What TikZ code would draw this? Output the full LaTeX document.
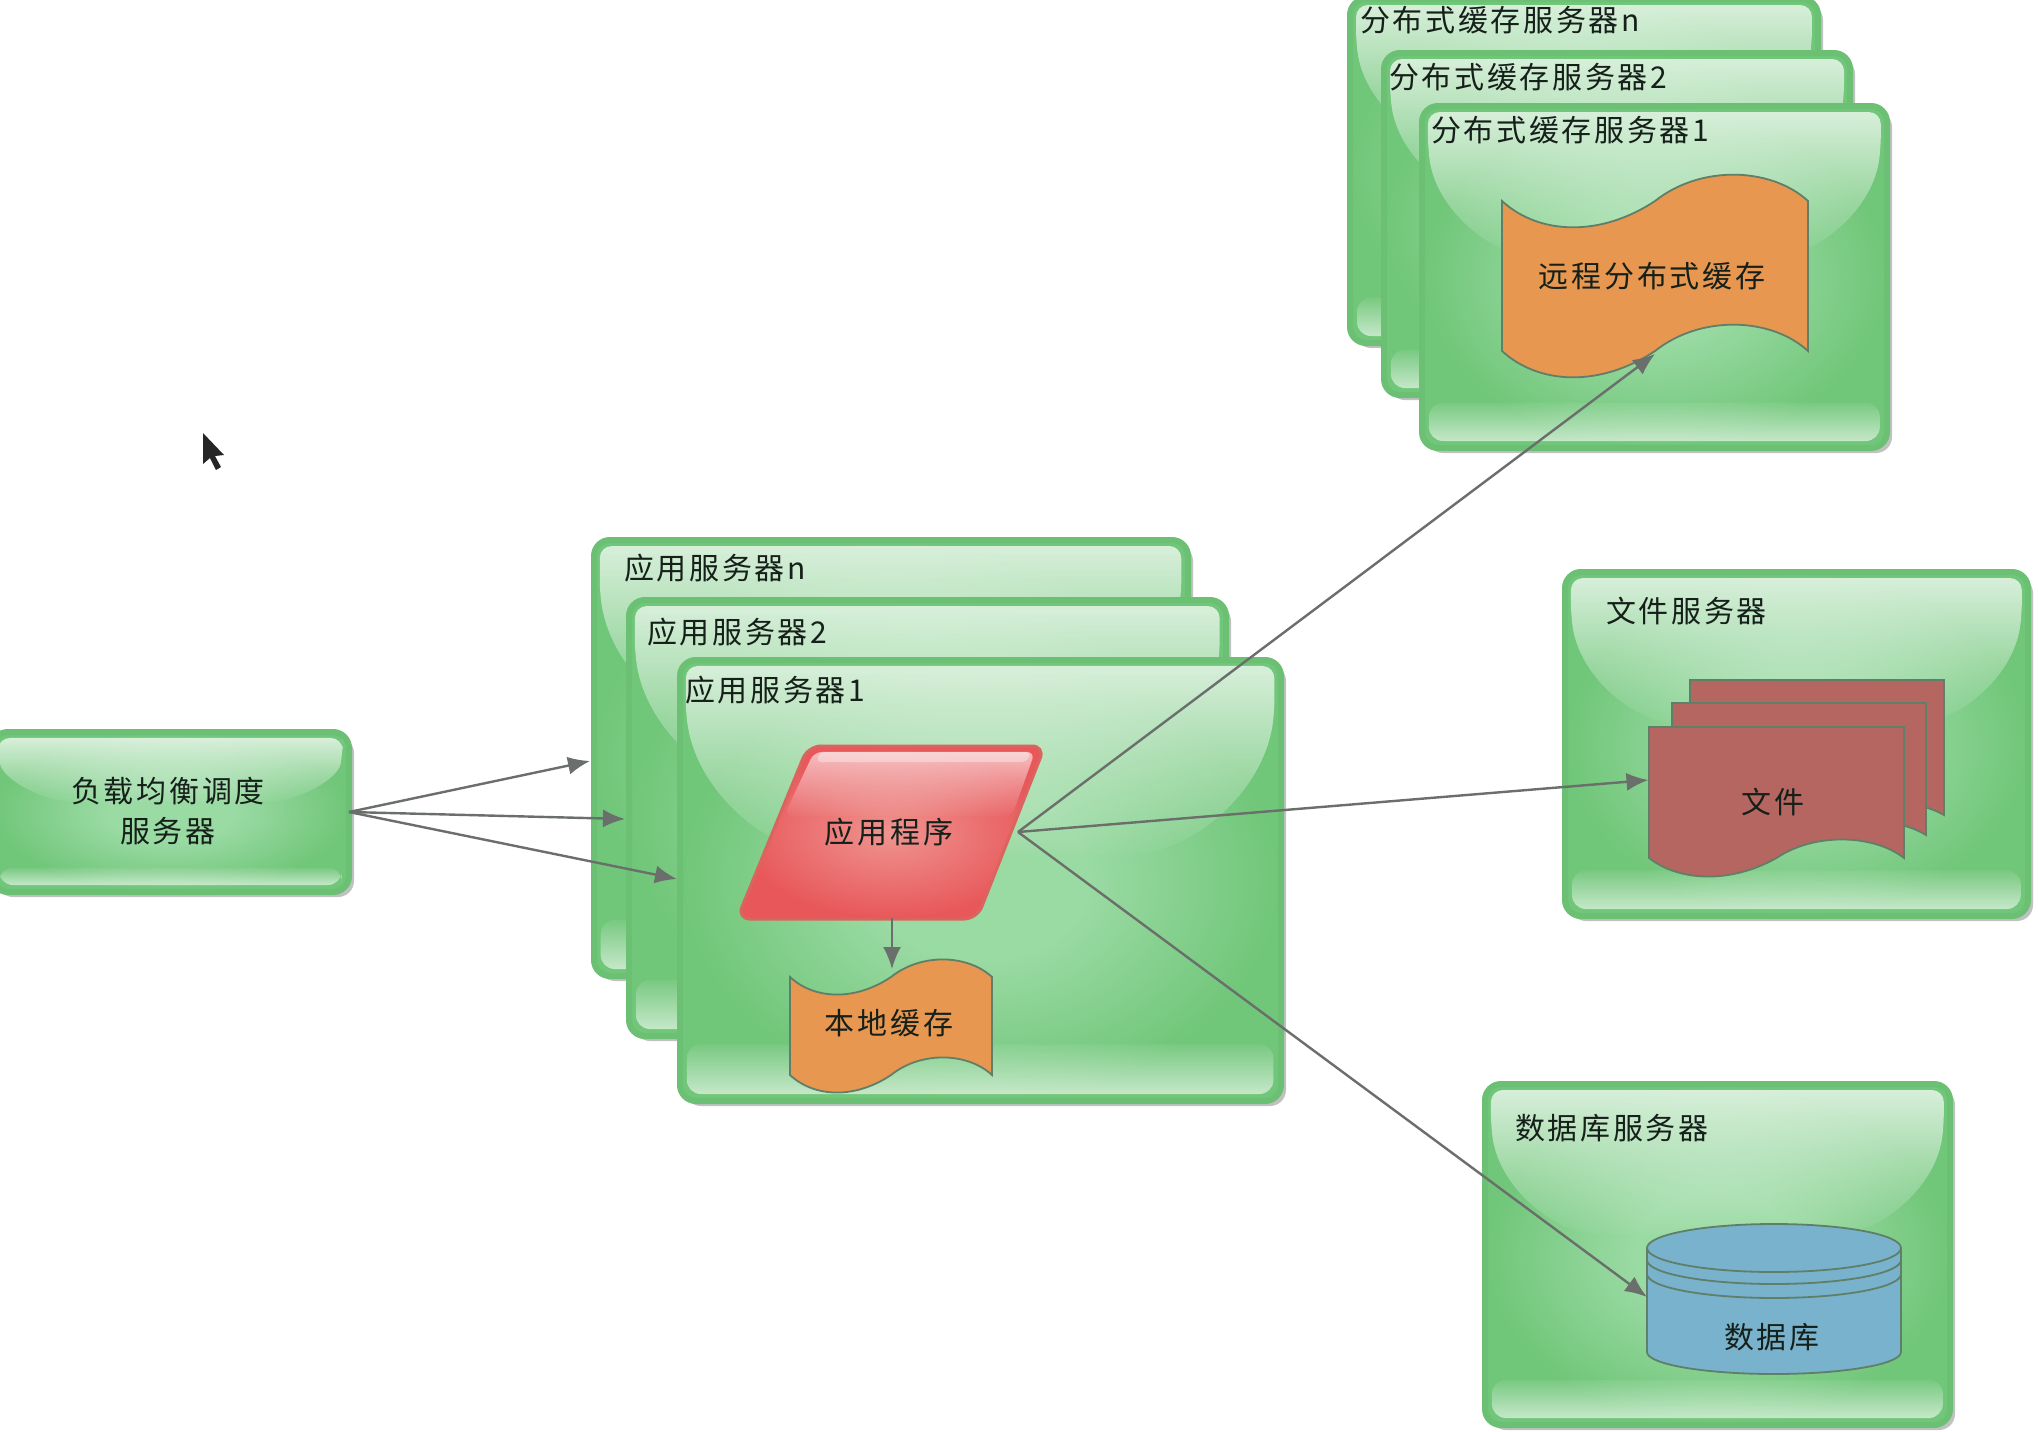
\documentclass[tikz,border=0pt]{standalone}
\usepackage{fontspec}
\setmainfont{Liberation Sans}
\newfontfamily\cjk[LetterSpace=9]{Noto Sans CJK SC}
\usetikzlibrary{arrows.meta,shadows,fadings}
\definecolor{bodyin}{HTML}{9ADAA3}
\definecolor{bodyout}{HTML}{70C679}
\definecolor{edgegreen}{HTML}{6BC074}
\definecolor{orangefill}{HTML}{E79750}
\definecolor{redsheet}{HTML}{B66660}
\definecolor{bluedb}{HTML}{79B2CC}
\definecolor{shapeline}{HTML}{5F7F68}
\definecolor{wire}{HTML}{6A6F6B}
\definecolor{inktext}{HTML}{16201A}
\definecolor{redin}{HTML}{EF9490}
\definecolor{redout}{HTML}{E8575A}
\definecolor{rededge}{HTML}{D9655E}
\pgfdeclareradialshading{srvglow}{\pgfpointorigin}{color(0bp)=(bodyin); color(9bp)=(bodyin); color(25bp)=(bodyout); color(50bp)=(bodyout)}
\tikzfading[name=glosstop,top color=transparent!15,bottom color=transparent!97]
\tikzfading[name=glossbottom,top color=transparent!92,bottom color=transparent!25]
\tikzset{
  srv/.style={draw=edgegreen,line width=6pt,rounded corners=16pt,shade,shading=srvglow,
    outer sep=0pt,inner sep=0pt,general shadow={shadow xshift=5pt,shadow yshift=-5pt,fill=black!80,opacity=.3}},
  ghost/.style={inner sep=0pt,outer sep=0pt},
  lbl/.style={font=\cjk\fontsize{30}{40}\selectfont,text=inktext,inner sep=0pt,outer sep=0pt},
  lblw/.style={lbl,anchor=west},
  shapeedge/.style={draw=shapeline,line width=1.8pt},
  wave/.style={shapeedge,fill=orangefill},
  sheet/.style={shapeedge,fill=redsheet},
  dbpart/.style={shapeedge,fill=bluedb},
  link/.style={draw=wire,line width=2.4pt,-{Latex[length=22pt,width=18pt]}},
}
% server panel: name, x1, y1, x2, y2
\newcommand\srvpanel[5]{%
  \pgfmathsetmacro\pw{#4-#2}\pgfmathsetmacro\ph{#5-#3}%
  \pgfmathsetmacro\pcx{(#2+#4)/2}\pgfmathsetmacro\pcy{(#3+#5)/2}%
  \node[srv,minimum width=\pw pt,minimum height=\ph pt] (#1) at (\pcx,\pcy) {};
  \fill[white,fill opacity=.85,path fading=glosstop,rounded corners=12pt]
    ({#2+6},{#3+6}) -- ({#4-6},{#3+6}) -- ({#4-6},{#3+.12*\ph})
    .. controls ({#4-.03*\pw},{#3+.30*\ph}) and ({#4-.14*\pw},{#3+.42*\ph}) .. ({#4-.24*\pw},{#3+.44*\ph})
    -- ({#2+.24*\pw},{#3+.44*\ph})
    .. controls ({#2+.14*\pw},{#3+.42*\ph}) and ({#2+.03*\pw},{#3+.30*\ph}) .. ({#2+6},{#3+.12*\ph}) -- cycle;
  \fill[white,fill opacity=.8,path fading=glossbottom,rounded corners=14pt]
    ({#2+7},{#5-6-.115*\ph}) rectangle ({#4-7},{#5-7});
}
% wave outline: x1, ytop, x2, ybottom, amplitude
\newcommand\wavepath[5]{%
  \pgfmathsetmacro\ww{#3-#1}%
  \draw[wave] (#1,#2) .. controls ({#1+.12*\ww},{#2+1.25*#5}) and ({#1+.32*\ww},{#2+1.35*#5}) .. ({#1+.5*\ww},#2)
    .. controls ({#1+.65*\ww},{#2-1.35*#5}) and ({#1+.88*\ww},{#2-1.25*#5}) .. (#3,#2)
    -- (#3,#4) .. controls ({#1+.88*\ww},{#4-1.25*#5}) and ({#1+.65*\ww},{#4-1.35*#5}) .. ({#1+.5*\ww},#4)
    .. controls ({#1+.32*\ww},{#4+1.35*#5}) and ({#1+.12*\ww},{#4+1.25*#5}) .. (#1,#4) -- cycle;
}
% document sheet: x1, ytop, x2, ybottom, amplitude
\newcommand\sheetpath[5]{%
  \pgfmathsetmacro\ww{#3-#1}%
  \draw[sheet] (#1,#2) -- (#3,#2)
    -- (#3,#4) .. controls ({#1+.88*\ww},{#4-1.25*#5}) and ({#1+.65*\ww},{#4-1.35*#5}) .. ({#1+.5*\ww},#4)
    .. controls ({#1+.32*\ww},{#4+1.35*#5}) and ({#1+.12*\ww},{#4+1.25*#5}) .. (#1,#4) -- cycle;
}
\begin{document}
\begin{tikzpicture}[x=1pt,y=-1pt]
\useasboundingbox (0,0) rectangle (2038,1432);
\fill[white] (0,0) rectangle (2038,1432);

% mouse pointer
\fill[black!85] (203,433) -- (203,464) -- (210,458) -- (216,470) -- (221,467) -- (215,456) -- (224,455) -- cycle;

% load balancer
\srvpanel{lb}{-8}{732}{349}{892}
\node[lbl,align=center] (lbtext) at (168,811) {负载均衡调度\\服务器};

% distributed cache servers
\srvpanel{cachen}{1350}{-1}{1818}{343}
\node[lblw] (cachentext) at (1360,20) {分布式缓存服务器n};
\srvpanel{cachetwo}{1384}{53}{1850}{395}
\node[lblw] (cachetwotext) at (1389,77) {分布式缓存服务器2};
\srvpanel{cacheone}{1422}{106}{1887}{448}
\node[lblw] (cacheonetext) at (1431,130) {分布式缓存服务器1};
\wavepath{1502}{201}{1808}{351}{27}
\node[lbl,minimum width=306pt,minimum height=156pt] (remote) at (1655,276) {\hspace{-6pt}远程分布式缓存};

% application servers
\srvpanel{appn}{594}{540}{1188}{976}
\node[lblw] (appntext) at (624,568) {应用服务器n};
\srvpanel{apptwo}{629}{600}{1226}{1036}
\node[lblw] (apptwotext) at (647,632) {应用服务器2};
\srvpanel{appone}{680}{660}{1281}{1101}
\node[lblw] (apponetext) at (685,690) {应用服务器1};

% application program
\draw[draw=rededge,line width=3pt,rounded corners=13pt,inner color=redin,outer color=redout]
  (808,746) -- (1045,746) -- (977,919) -- (737,919) -- cycle;
\fill[white,fill opacity=.72,path fading=glosstop,rounded corners=8pt]
  (814,752) -- (1035,752) -- (1012,816) -- (784,816) -- cycle;
\fill[white,fill opacity=.35,rounded corners=5pt] (820,752) -- (1031,752) -- (1027,762) -- (816,762) -- cycle;
\node[lbl,minimum width=252pt,minimum height=172pt] (prog) at (892,832) {\hspace{-6pt}应用程序};

% local cache
\wavepath{790}{977}{992}{1075}{18}
\node[lbl,minimum width=202pt,minimum height=108pt] (local) at (892,1023) {\hspace{-6pt}本地缓存};

% file server
\srvpanel{fileserver}{1565}{572}{2028}{916}
\node[lblw] (fileservertext) at (1606,611) {文件服务器};
\sheetpath{1690}{680}{1944}{815}{14}
\sheetpath{1672}{703}{1926}{835}{15}
\sheetpath{1649}{727}{1904}{858}{19}
\node[ghost,minimum width=255pt,minimum height=106pt] (file) at (1776,780) {};
\node[lbl] (filetext) at (1773,802) {文件};

% database server
\srvpanel{dbserver}{1485}{1084}{1950}{1425}
\node[lblw] (dbservertext) at (1515,1128) {数据库服务器};
\draw[dbpart] (1647,1248) -- (1647,1352) arc[start angle=180,end angle=360,x radius=127,y radius=-22] -- (1901,1248);
\fill[bluedb] (1774,1248) ellipse[x radius=127,y radius=24];
\draw[dbpart] (1774,1248) ellipse[x radius=127,y radius=24];
\draw[shapeedge] (1647,1260) arc[start angle=180,end angle=360,x radius=127,y radius=-24];
\draw[shapeedge] (1647,1274) arc[start angle=180,end angle=360,x radius=127,y radius=-24];
\node[ghost,minimum width=254pt,minimum height=150pt] (db) at (1774,1297) {};
\node[lbl] (dbtext) at (1772,1337) {数据库};

% connectors
\coordinate (entern) at (590,761);
\coordinate (entertwo) at (625,819);
\coordinate (enterone) at (677,879);
\draw[link] (lb.east) -- (entern);
\draw[link] (lb.east) -- (entertwo);
\draw[link] (lb.east) -- (enterone);
\draw[link] (prog.south) -- (local.north);
\draw[link] (prog.east) -- (remote.south);
\draw[link] (prog.east) -- (file.west);
\draw[link] (prog.east) -- (db.west);
\end{tikzpicture}
\end{document}
